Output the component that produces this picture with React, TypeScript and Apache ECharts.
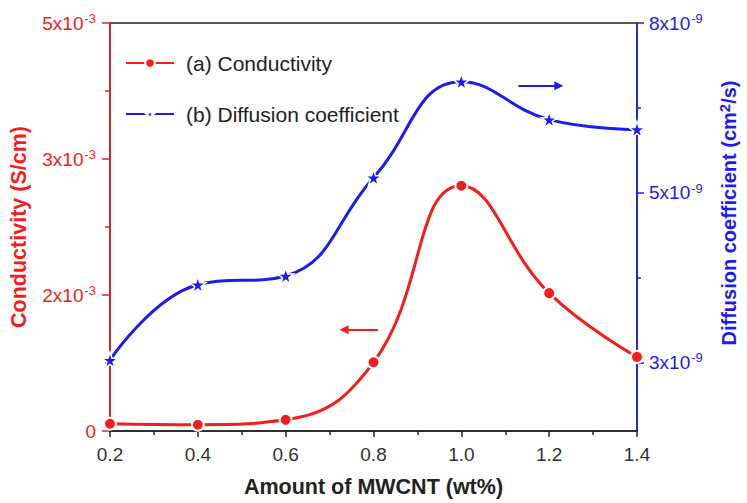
import React, { useEffect, useRef } from "react";
import * as echarts from "echarts";

const xValues = [0.2, 0.4, 0.6, 0.8, 1.0, 1.2, 1.4];
const conductivity = [0.089e-3, 0.077e-3, 0.137e-3, 0.842e-3, 3.006e-3, 1.69e-3, 0.908e-3];
const diffusion = [2.835e-9, 3.99e-9, 4.125e-9, 5.63e-9, 7.1e-9, 6.52e-9, 6.37e-9];
const rightMajorTicks = [2.8e-9, 5.4e-9, 8e-9];
const rightMinorTicks = [4.1e-9, 6.7e-9];
const redArrow = [[0.81, 1.24e-3], [0.733, 1.24e-3]];
const blueArrow = [[1.13, 7.04e-9], [1.222, 7.04e-9]];

const RED = "#f51c1c";
const BLUE = "#1c1cf0";
const FONT = "Arial, 'Liberation Sans', sans-serif";
const STAR =
  "path://M12,0 L14.9,8.1 L23.4,8.1 L16.5,13.1 L19.1,21.3 L12,16.3 L4.9,21.3 L7.5,13.1 L0.6,8.1 L9.1,8.1 Z";

const supRich = (color: string) => ({
  b: { fontSize: 19, color, fontFamily: FONT, lineHeight: 22 },
  s: { fontSize: 13, color, fontFamily: FONT, lineHeight: 22, verticalAlign: "top" as const, padding: [0, 0, 0, 1] },
});

export default function App() {
  const ref = useRef<HTMLDivElement>(null);
  useEffect(() => {
    if (!ref.current) return;
    const chart = echarts.init(ref.current, undefined, { renderer: "svg" });
    chart.setOption({
      animation: false,
      backgroundColor: "#ffffff",
      grid: {
        left: 109,
        right: 99,
        top: 23,
        bottom: 69,
        show: true,
        borderColor: "#222",
        borderWidth: 1.5,
        backgroundColor: "transparent",
      },
      legend: {
        orient: "vertical",
        left: 120,
        top: 46,
        itemWidth: 48,
        itemHeight: 12,
        itemGap: 27,
        textStyle: { fontSize: 21, color: "#222", fontFamily: FONT, lineHeight: 24, padding: [0, 0, 0, 7] },
        data: ["(a) Conductivity", "(b) Diffusion coefficient"],
      },
      xAxis: {
        type: "value",
        min: 0.2,
        max: 1.4,
        interval: 0.2,
        name: "Amount of MWCNT (wt%)",
        nameLocation: "middle",
        nameGap: 45,
        nameTextStyle: { fontSize: 21.5, fontWeight: "bold", color: "#222", fontFamily: FONT },
        axisLine: { show: true, lineStyle: { color: "#222", width: 1.5 } },
        axisTick: { show: true, length: 6, lineStyle: { color: "#222", width: 1.5 } },
        minorTick: { show: true, splitNumber: 2, length: 4, lineStyle: { color: "#222", width: 1.5 } },
        axisLabel: {
          fontSize: 19,
          color: "#333",
          fontFamily: FONT,
          margin: 14,
          formatter: (v: number) => v.toFixed(1),
        },
        splitLine: { show: false },
      },
      yAxis: [
        {
          type: "value",
          position: "left",
          min: 0,
          max: 5e-3,
          interval: 5e-3 / 3,
          name: "Conductivity (S/cm)",
          nameLocation: "middle",
          nameGap: 80,
          nameTextStyle: { fontSize: 21.5, fontWeight: "bold", color: RED, fontFamily: FONT },
          axisLine: { show: true, lineStyle: { color: RED, width: 1.5 } },
          axisTick: { show: true, length: 8, lineStyle: { color: RED, width: 1.5 } },
          minorTick: { show: true, splitNumber: 2, length: 5, lineStyle: { color: RED, width: 1.5 } },
          axisLabel: {
            margin: 14,
            color: RED,
            fontFamily: FONT,
            fontSize: 19,
            formatter: (v: number) => (v === 0 ? "{b|0}" : `{b|${Math.round(v * 1e3)}x10}{s|-3}`),
            rich: supRich(RED),
          },
          splitLine: { show: false },
        },
        {
          type: "value",
          position: "right",
          min: 1.75e-9,
          max: 8e-9,
          name: "{b|Diffusion coefficient (cm}{s|2}{b|/s)}",
          nameLocation: "middle",
          nameGap: 80,
          nameTextStyle: {
            color: BLUE,
            padding: [0, 0, 0, 28],
            rich: {
              b: { fontSize: 20, fontWeight: "bold", color: BLUE, fontFamily: FONT, lineHeight: 24 },
              s: { fontSize: 15, fontWeight: "bold", color: BLUE, fontFamily: FONT, lineHeight: 24, verticalAlign: "top" },
            },
          },
          axisLine: { show: true, lineStyle: { color: BLUE, width: 1.5 } },
          axisTick: { show: true, length: 7, customValues: rightMajorTicks, lineStyle: { color: BLUE, width: 1.5 } },
          axisLabel: {
            margin: 12,
            customValues: rightMajorTicks,
            formatter: (v: number) => `{b|${Math.round(v * 1e9)}x10}{s|-9}`,
            rich: supRich(BLUE),
          },
          splitLine: { show: false },
        },
        {
          type: "value",
          position: "right",
          min: 1.75e-9,
          max: 8e-9,
          axisLine: { show: false },
          axisTick: { show: true, length: 4, customValues: rightMinorTicks, lineStyle: { color: BLUE, width: 1.5 } },
          axisLabel: { show: false },
          splitLine: { show: false },
        },
      ],
      series: [
        {
          name: "(b) Diffusion coefficient",
          type: "line",
          yAxisIndex: 1,
          smooth: 0.45,
          data: xValues.map((x, i) => [x, diffusion[i]]),
          symbol: STAR,
          symbolSize: 16,
          lineStyle: { color: BLUE, width: 3 },
          itemStyle: { color: BLUE, borderColor: "#fff", borderWidth: 1.5 },
          markLine: {
            silent: true,
            symbol: ["none", "triangle"],
            symbolSize: [9, 9],
            label: { show: false },
            lineStyle: { color: BLUE, width: 2, type: "solid" },
            data: [[{ coord: blueArrow[0] }, { coord: blueArrow[1] }]],
          },
        },
        {
          name: "(a) Conductivity",
          type: "line",
          yAxisIndex: 0,
          smooth: 0.45,
          data: xValues.map((x, i) => [x, conductivity[i]]),
          symbol: "circle",
          symbolSize: 12,
          lineStyle: { color: RED, width: 3 },
          itemStyle: { color: RED, borderColor: "#fff", borderWidth: 2 },
          markLine: {
            silent: true,
            symbol: ["none", "triangle"],
            symbolSize: [9, 9],
            label: { show: false },
            lineStyle: { color: RED, width: 2, type: "solid" },
            data: [[{ coord: redArrow[0] }, { coord: redArrow[1] }]],
          },
        },
      ],
    });
    return () => chart.dispose();
  }, []);
  return (
    <div
      ref={ref}
      style={{ position: "fixed", left: 0, top: 0, width: 747, height: 503, background: "#fff" }}
    />
  );
}
